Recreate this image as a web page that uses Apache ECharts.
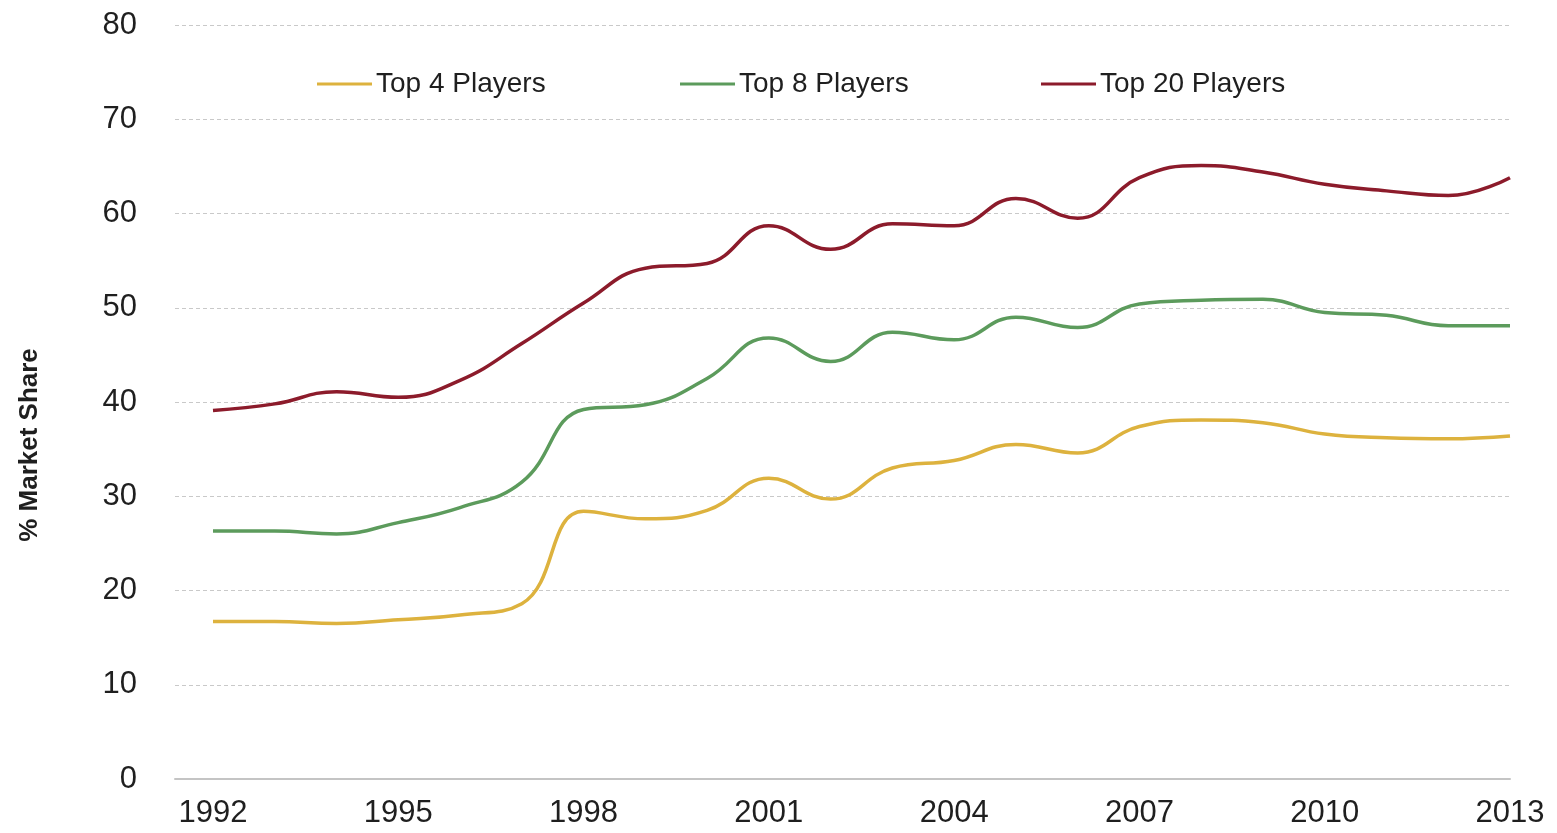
<!DOCTYPE html>
<html>
<head>
<meta charset="utf-8">
<title>% Market Share – Top Players</title>
<script src="https://cdn.jsdelivr.net/npm/echarts@6/dist/echarts.min.js"></script>
<style>
  html, body { margin: 0; padding: 0; background: #ffffff; }
  #chart { width: 1557px; height: 833px; }
</style>
</head>
<body>
<div id="chart"></div>
<script>
// Yearly market share (%) held by the largest players
const years = [1992, 1993, 1994, 1995, 1996, 1997, 1998, 1999, 2000, 2001, 2002,
               2003, 2004, 2005, 2006, 2007, 2008, 2009, 2010, 2011, 2012, 2013];
const top4  = [16.7, 16.7, 16.5, 16.9, 17.4, 18.6, 28.4, 27.6, 28.5, 31.9, 29.7,
               33.0, 33.8, 35.5, 34.6, 37.4, 38.1, 37.8, 36.6, 36.2, 36.1, 36.4];
const top8  = [26.3, 26.3, 26.0, 27.2, 28.8, 31.5, 39.2, 39.7, 42.5, 46.8, 44.3,
               47.4, 46.6, 49.0, 47.9, 50.4, 50.8, 50.9, 49.5, 49.2, 48.1, 48.1];
const top20 = [39.1, 39.8, 41.1, 40.5, 42.3, 46.2, 50.5, 54.2, 54.7, 58.7, 56.2,
               58.9, 58.7, 61.6, 59.5, 63.8, 65.1, 64.4, 63.1, 62.4, 61.9, 63.8];
const seriesNames = ['Top 4 Players', 'Top 8 Players', 'Top 20 Players'];
const seriesColors = ['#DDB23E', '#5C9B5C', '#8C1B2B'];
const xTickYears = [1992, 1995, 1998, 2001, 2004, 2007, 2010, 2013];
const yTicks = [0, 10, 20, 30, 40, 50, 60, 70, 80];

const FONT = 'Arial';
const TEXT = '#1f1f1f';

const pairs = vals => years.map((y, i) => [y, vals[i]]);
const seriesValues = [top4, top8, top20];

// one legend block per series, spread across the top of the plot
const legendLefts = [317, 680, 1041];
const legends = seriesNames.map((name, i) => ({
  data: [name],
  left: legendLefts[i],
  top: 70,
  padding: 0,
  icon: 'rect',
  itemWidth: 55,
  itemHeight: 3,
  textStyle: { fontFamily: FONT, fontSize: 28, color: TEXT, padding: [0, 0, 0, -1] }
}));

const chart = echarts.init(document.getElementById('chart'), null, { renderer: 'canvas' });
chart.setOption({
  animation: false,
  backgroundColor: '#ffffff',
  legend: legends,
  grid: { left: 175, right: 47, top: 25, bottom: 54, containLabel: false },
  xAxis: {
    type: 'value',
    min: 1991.385,
    max: 2013,
    axisLine: { show: true, lineStyle: { color: '#c4c4c4', width: 2 } },
    axisTick: { show: false },
    splitLine: { show: false },
    axisLabel: {
      customValues: xTickYears,
      formatter: v => String(v),
      fontFamily: FONT,
      fontSize: 31,
      color: TEXT,
      margin: 19
    }
  },
  yAxis: {
    type: 'value',
    min: yTicks[0],
    max: yTicks[yTicks.length - 1],
    interval: 10,
    axisLine: { show: false },
    axisTick: { show: false },
    axisLabel: { fontFamily: FONT, fontSize: 31, color: TEXT, margin: 38 },
    splitLine: { show: true, lineStyle: { color: '#c9c9c9', width: 1, type: [4, 3] } }
  },
  graphic: [{
    type: 'text',
    x: 30,
    y: 445,
    rotation: Math.PI / 2,
    style: {
      text: '% Market Share',
      fontFamily: FONT,
      fontWeight: 'bold',
      fontSize: 26,
      fill: TEXT,
      align: 'center',
      verticalAlign: 'middle'
    }
  }],
  series: seriesNames.map((name, i) => ({
    name: name,
    type: 'line',
    data: pairs(seriesValues[i]),
    smooth: 0.45,
    symbol: 'none',
    lineStyle: { color: seriesColors[i], width: 3.5 },
    itemStyle: { color: seriesColors[i] }
  }))
});
</script>
</body>
</html>
